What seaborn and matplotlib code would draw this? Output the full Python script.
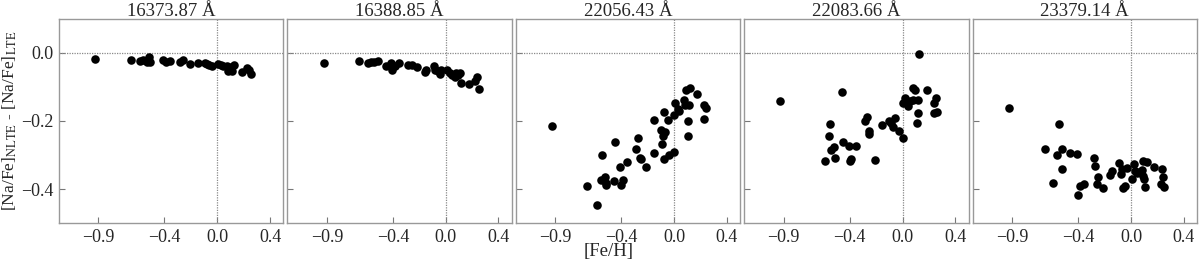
import matplotlib
matplotlib.use("Agg")
import matplotlib.pyplot as plt
import seaborn as sns
import pandas as pd

sns.set_theme(style="white")
plt.rcParams['font.family'] = ['Liberation Serif', 'DejaVu Serif']
plt.rcParams['mathtext.fontset'] = 'stix'

titles = ["16373.87 Å", "16388.85 Å", "22056.43 Å", "22083.66 Å", "23379.14 Å"]

x1 = [-0.925, -0.654, -0.588, -0.565, -0.532, -0.520, -0.507, -0.411, -0.385, -0.355,
      -0.279, -0.259, -0.208, -0.144, -0.096, -0.076, -0.063, -0.043, 0.005, 0.025,
      0.046, 0.071, 0.084, 0.091, 0.114, 0.127, 0.185, 0.228, 0.241, 0.253]
y1 = [-0.017, -0.022, -0.024, -0.022, -0.027, -0.012, -0.026, -0.021, -0.028, -0.025,
      -0.026, -0.022, -0.032, -0.029, -0.030, -0.032, -0.036, -0.039, -0.032, -0.034,
      -0.037, -0.039, -0.054, -0.042, -0.054, -0.035, -0.056, -0.045, -0.051, -0.062]

x2 = [-0.924, -0.657, -0.588, -0.568, -0.543, -0.513, -0.455, -0.417, -0.404, -0.386,
      -0.356, -0.285, -0.253, -0.215, -0.159, -0.146, -0.091, -0.083, -0.058, -0.045,
      -0.033, 0.013, 0.030, 0.051, 0.068, 0.081, 0.093, 0.106, 0.114, 0.174, 0.225,
      0.240, 0.250]
y2 = [-0.031, -0.025, -0.029, -0.028, -0.027, -0.024, -0.037, -0.031, -0.049, -0.039,
      -0.030, -0.034, -0.036, -0.042, -0.057, -0.049, -0.039, -0.051, -0.054, -0.062,
      -0.051, -0.051, -0.059, -0.064, -0.071, -0.059, -0.064, -0.059, -0.088, -0.090,
      -0.081, -0.070, -0.106]

x3 = [-0.923, -0.658, -0.587, -0.557, -0.547, -0.527, -0.514, -0.519, -0.459, -0.451,
      -0.411, -0.401, -0.386, -0.358, -0.285, -0.275, -0.257, -0.250, -0.212, -0.156,
      -0.149, -0.103, -0.091, -0.083, -0.078, -0.073, -0.068, -0.048, -0.035, -0.003,
      0.003, 0.010, 0.028, 0.040, 0.073, 0.083, 0.091, 0.103, 0.108, 0.116, 0.124,
      0.174, 0.224, 0.229, 0.242]
y3 = [-0.215, -0.391, -0.447, -0.374, -0.301, -0.365, -0.388, -0.381, -0.376, -0.263,
      -0.335, -0.388, -0.374, -0.321, -0.281, -0.251, -0.310, -0.313, -0.334, -0.294,
      -0.196, -0.227, -0.268, -0.245, -0.174, -0.311, -0.233, -0.198, -0.299, -0.291,
      -0.181, -0.147, -0.166, -0.171, -0.137, -0.154, -0.108, -0.243, -0.199, -0.154,
      -0.103, -0.122, -0.193, -0.154, -0.163]

x4 = [-0.925, -0.586, -0.560, -0.550, -0.540, -0.520, -0.510, -0.456, -0.449, -0.408,
      -0.398, -0.388, -0.352, -0.281, -0.271, -0.256, -0.251, -0.208, -0.155, -0.104,
      -0.084, -0.071, -0.058, -0.028, 0.003, 0.005, 0.018, 0.043, 0.056, 0.076, 0.081,
      0.094, 0.114, 0.106, 0.119, 0.127, 0.183, 0.236, 0.241, 0.251, 0.259]
y4 = [-0.141, -0.317, -0.245, -0.210, -0.284, -0.277, -0.308, -0.114, -0.262, -0.274,
      -0.318, -0.311, -0.274, -0.201, -0.189, -0.239, -0.230, -0.315, -0.212, -0.199,
      -0.205, -0.217, -0.191, -0.230, -0.250, -0.147, -0.132, -0.157, -0.142, -0.137,
      -0.103, -0.110, -0.176, -0.205, -0.137, -0.003, -0.110, -0.178, -0.147, -0.132,
      -0.174]

x5 = [-0.925, -0.655, -0.590, -0.560, -0.549, -0.522, -0.519, -0.459, -0.408, -0.403,
      -0.383, -0.358, -0.282, -0.272, -0.257, -0.252, -0.209, -0.156, -0.146, -0.088,
      -0.076, -0.071, -0.061, -0.045, -0.033, 0.005, 0.020, 0.030, 0.045, 0.063, 0.081,
      0.088, 0.088, 0.101, 0.106, 0.121, 0.176, 0.232, 0.242, 0.227, 0.252]
y5 = [-0.163, -0.282, -0.382, -0.301, -0.208, -0.282, -0.342, -0.295, -0.297, -0.419,
      -0.391, -0.384, -0.309, -0.333, -0.386, -0.364, -0.398, -0.358, -0.348, -0.325,
      -0.357, -0.341, -0.398, -0.391, -0.339, -0.370, -0.327, -0.347, -0.354, -0.350,
      -0.344, -0.362, -0.317, -0.372, -0.394, -0.321, -0.335, -0.342, -0.365, -0.384,
      -0.394]

xs = [x1, x2, x3, x4, x5]
ys = [y1, y2, y3, y4, y5]

xticks = [-0.9, -0.4, 0.0, 0.4]
yticks = [0.0, -0.2, -0.4]

fig, axes = plt.subplots(1, 5, figsize=(12, 2.63), dpi=100, sharey=True)
fig.subplots_adjust(left=0.049, right=0.9975, top=0.928, bottom=0.152, wspace=0.018)

for i, ax in enumerate(axes):
    df = pd.DataFrame({"feh": xs[i], "dna": ys[i]})
    sns.scatterplot(data=df, x="feh", y="dna", ax=ax, color="black", s=38,
                    edgecolor="black", linewidth=0, zorder=3)
    ax.axhline(0, color="#8a8a8a", ls=(0, (1, 1)), lw=0.9, zorder=1)
    ax.axvline(0, color="#8a8a8a", ls=(0, (1, 1)), lw=0.9, zorder=1)
    ax.set_xlim(-1.2, 0.5)
    ax.set_ylim(-0.5, 0.1)
    ax.set_xticks(xticks)
    ax.set_xticklabels(["\u22120.9", "\u22120.4", "0.0", "0.4"])
    ax.set_yticks(yticks)
    ax.set_title(titles[i], fontsize=13.5, pad=2)
    ax.set_xlabel("")
    ax.set_ylabel("")
    for sp in ax.spines.values():
        sp.set_color("#999999")
        sp.set_linewidth(1.0)
    ax.tick_params(direction="in", length=4, width=0.8, color="#777777",
                   labelsize=13, bottom=True, left=True, top=False, right=False, pad=4)

axes[0].set_yticklabels(["0.0", "\u22120.2", "\u22120.4"])
axes[0].set_ylabel(r"[Na/Fe]$_{\rm NLTE}$ - [Na/Fe]$_{\rm LTE}$", fontsize=12.6, labelpad=1)
fig.text(0.507, 0.01, "[Fe/H]", ha="center", va="bottom", fontsize=13.5)

fig.savefig("out.png", dpi=100)
